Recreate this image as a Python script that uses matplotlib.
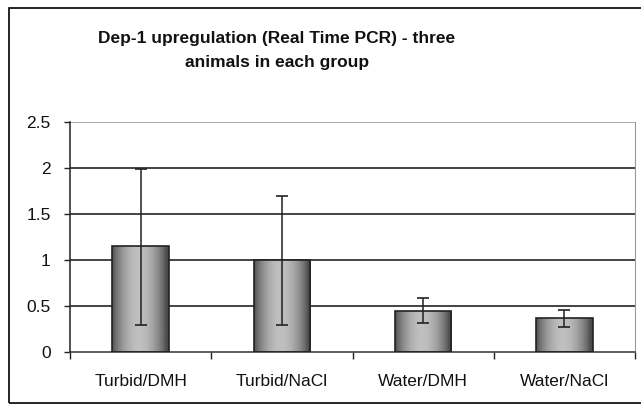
import numpy as np
import matplotlib
matplotlib.use("Agg")
import matplotlib.pyplot as plt
from matplotlib.patches import Rectangle

plt.rcParams['font.family'] = ['Liberation Sans', 'DejaVu Sans']

groups = ['Turbid/DMH', 'Turbid/NaCl', 'Water/DMH', 'Water/NaCl']
means = [1.15, 1.0, 0.45, 0.37]
err_low = [0.86, 0.71, 0.14, 0.10]
err_high = [0.84, 0.70, 0.14, 0.09]
yticks = [0, 0.5, 1, 1.5, 2, 2.5]

fig = plt.figure(figsize=(6.41, 4.12), dpi=100)
# outer chart border (right side runs off the image)
fig.patches.append(Rectangle((9/641, 1 - 403/412), 660/641, 395/412, transform=fig.transFigure,
                             fill=False, edgecolor='black', linewidth=1.2))

ax = fig.add_axes([70/641, 1 - 352/412, 565/641, 230/412])
x = np.arange(len(groups))
bars = ax.bar(x, means, width=0.4, color='none', edgecolor='#222222', linewidth=1.2, zorder=3)

# cylinder-like horizontal gradient inside each bar
t = np.linspace(0, 1, 200)
shade = 0.30 + 0.45 * np.sin(np.pi * np.clip(t * 1.05, 0, 1)) ** 0.8
grad = np.tile(shade, (2, 1))
for b in bars:
    im = ax.imshow(grad, cmap='gray', vmin=0, vmax=1, aspect='auto', interpolation='bilinear',
                   extent=[b.get_x(), b.get_x() + b.get_width(), 0, b.get_height()], zorder=2)
    im.set_clip_path(b)

ax.errorbar(x, means, yerr=[err_low, err_high], fmt='none', ecolor='#222222',
            elinewidth=1.1, capsize=4.5, capthick=1.2, zorder=4)

ax.set_xlim(-0.5, len(groups) - 0.5)
ax.set_ylim(0, 2.5)
ax.set_yticks(yticks)
ax.set_yticklabels(['0', '0.5', '1', '1.5', '2', '2.5'], fontsize=12.5, color='#111111')
ax.set_xticks(x)
ax.set_xticklabels(groups, fontsize=12.5, color='#111111')
ax.tick_params(axis='x', which='major', length=0, pad=16)
ax.set_xticks(np.arange(-0.5, len(groups)), minor=True)
ax.tick_params(axis='x', which='minor', length=5, width=1, color='#222222')
ax.tick_params(axis='y', length=4, width=1, color='#222222', pad=10)

for yv in yticks[1:-1]:
    ax.axhline(yv, color='#111111', linewidth=1.1, zorder=1)
ax.axhline(2.5, color='#999999', linewidth=1.2, zorder=1)

ax.spines['top'].set_visible(False)
ax.spines['right'].set_color('#999999')
ax.spines['left'].set_color('#222222')
ax.spines['bottom'].set_color('#333333')
ax.spines['left'].set_linewidth(1.1)
ax.spines['bottom'].set_linewidth(1.1)

fig.text(277/641, 1 - 50/412, 'Dep-1 upregulation (Real Time PCR) - three\nanimals in each group',
         ha='center', va='center', fontsize=12.5, fontweight='bold', linespacing=1.75, color='#111111')

fig.savefig('out.png', dpi=100)
